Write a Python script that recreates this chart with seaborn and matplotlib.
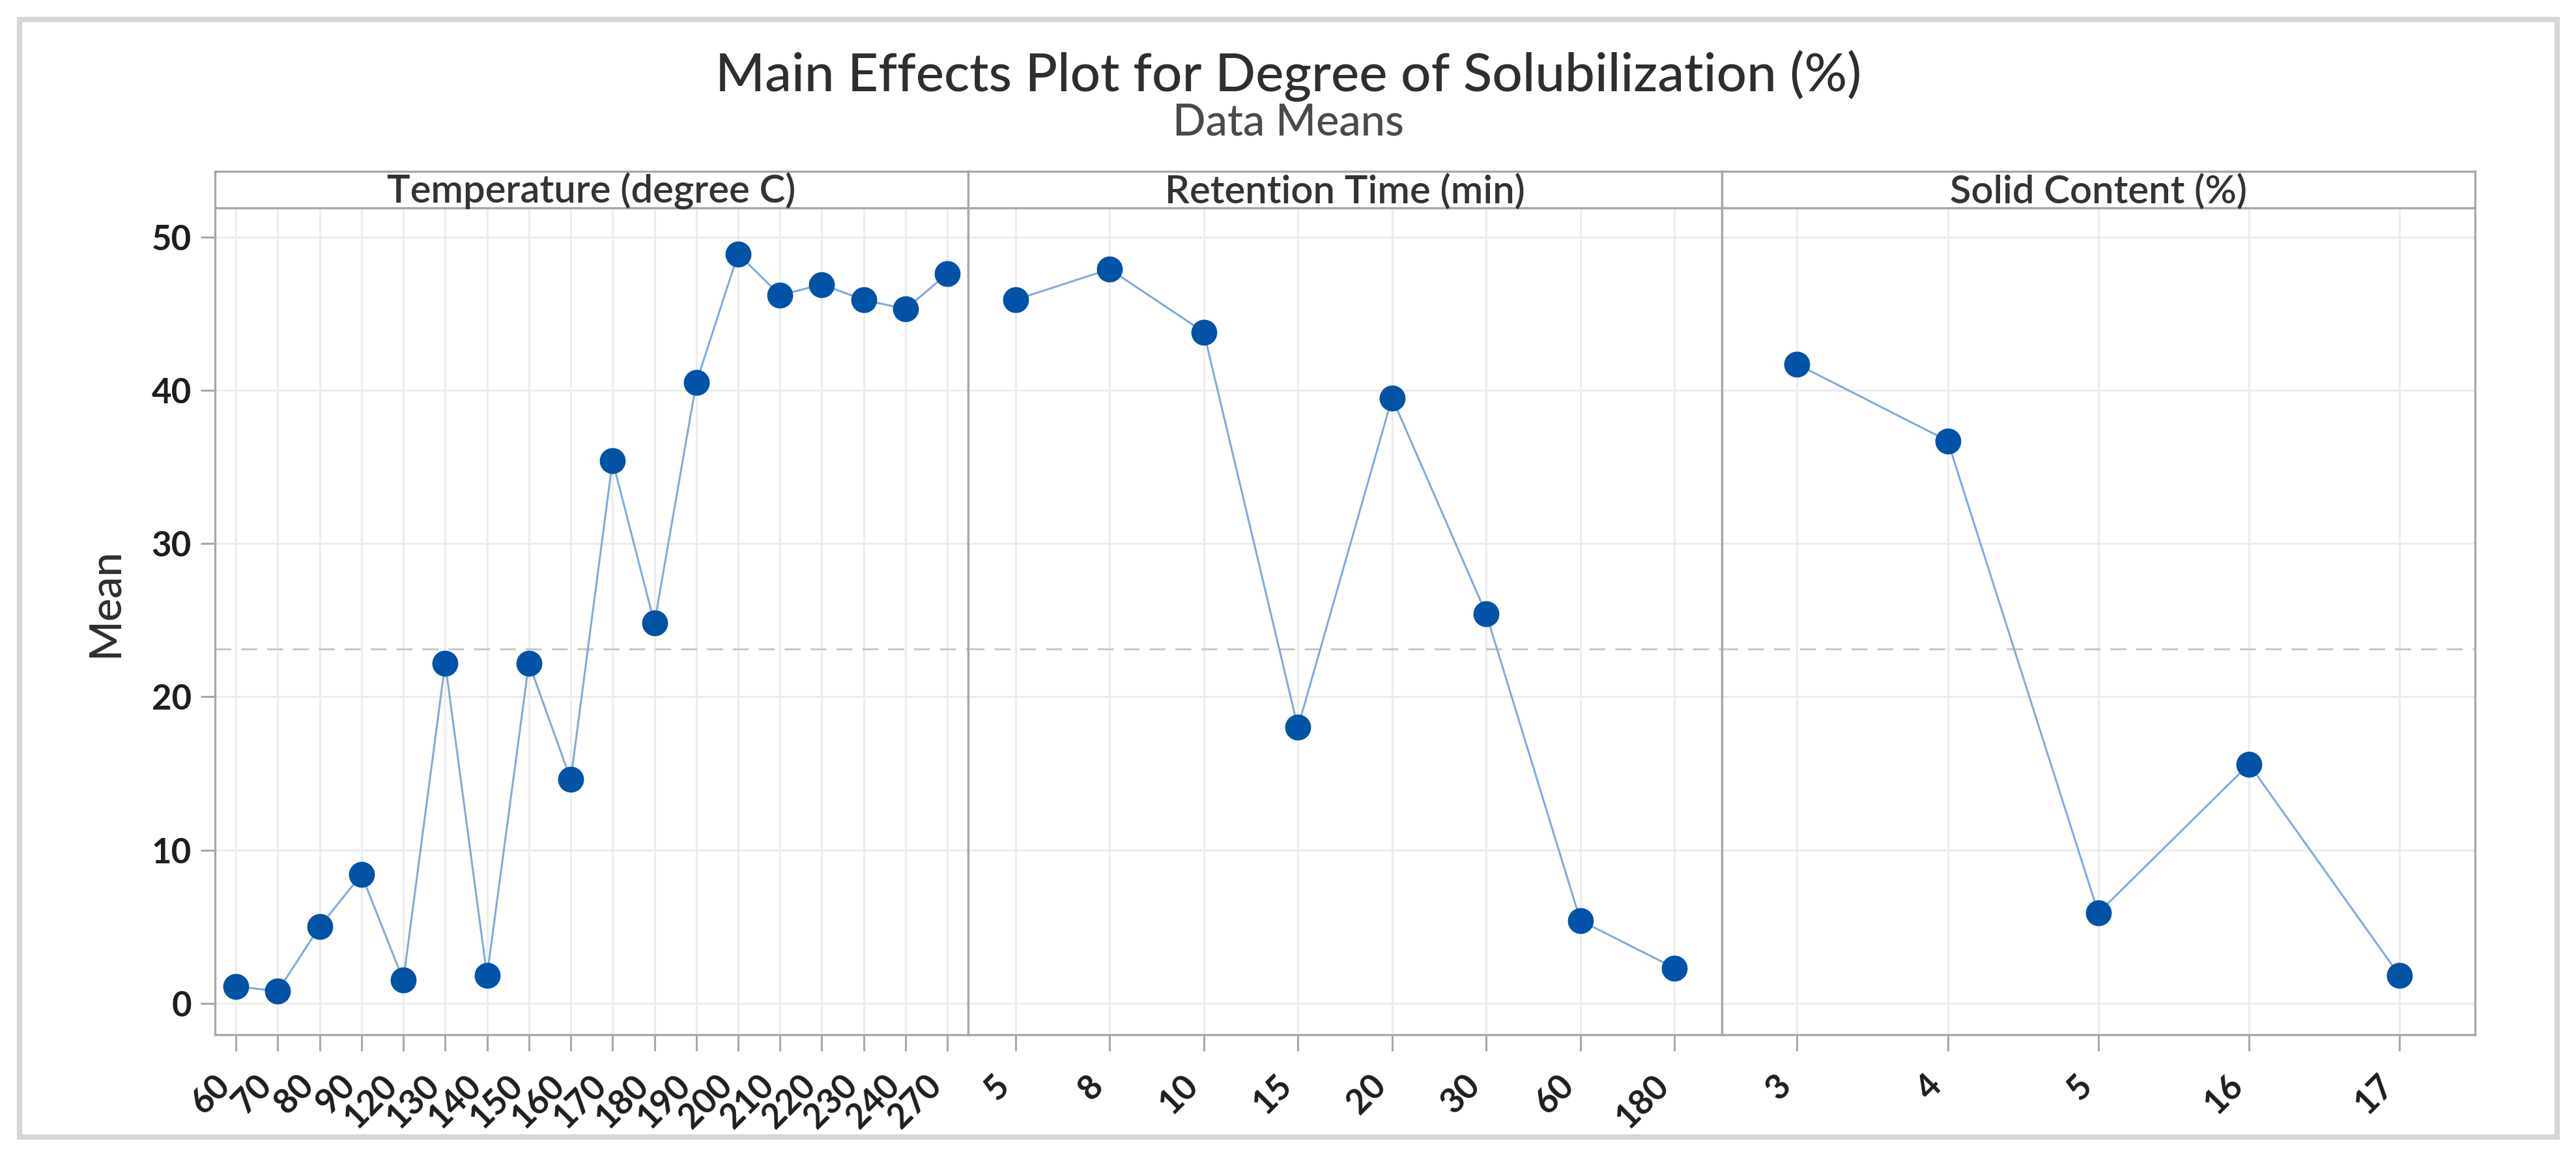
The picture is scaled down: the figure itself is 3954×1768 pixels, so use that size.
import matplotlib
matplotlib.use("Agg")
import numpy as np
import seaborn as sns
import matplotlib.pyplot as plt
from matplotlib.patches import Rectangle

sns.set_theme(style="white")
plt.rcParams['font.family'] = ['Lato', 'DejaVu Sans']

# ------ data ------ #
temp_levels = ["60", "70", "80", "90", "120", "130", "140", "150", "160",
               "170", "180", "190", "200", "210", "220", "230", "240", "270"]
temp_means = [1.1, 0.8, 5.0, 8.4, 1.5, 22.2, 1.8, 22.2, 14.6,
              35.4, 24.8, 40.5, 48.9, 46.2, 46.9, 45.9, 45.3, 47.6]

time_levels = ["5", "8", "10", "15", "20", "30", "60", "180"]
time_means = [45.9, 47.9, 43.8, 18.0, 39.5, 25.4, 5.4, 2.3]

solid_levels = ["3", "4", "5", "16", "17"]
solid_means = [41.7, 36.7, 5.9, 15.6, 1.8]

panel_titles = ["Temperature (degree C)", "Retention Time (min)", "Solid Content (%)"]
grand_mean = 23.1

W, H = 3955, 1768
DPI = 200
LINE_C = "#80aade"
MARK_C = "#0053a6"
FRAME_C = "#a8a8a8"
GRID_C = "#ececec"

fig = plt.figure(figsize=(W / DPI, H / DPI), dpi=DPI, facecolor="w")

# outer light-gray frame
fig.patches.append(Rectangle((30 / W, 1 - 1745 / H), 3895 / W, 1715 / H,
                             transform=fig.transFigure, fill=False,
                             edgecolor="#d6d6d6", linewidth=3, zorder=0))

fig.text(0.5, 1 - 116 / H, "Main Effects Plot for Degree of Solubilization (%)",
         ha="center", va="center", fontsize=29.4, color="#2e2e2e",
         fontweight="medium")
fig.text(0.5, 1 - 188 / H, "Data Means", ha="center", va="center",
         fontsize=24, color="#4a4a4a", fontweight="medium")
fig.text(162 / W, 1 - 925 / H, "Mean", rotation=90, ha="center", va="center",
         fontsize=24, color="#2e2e2e", fontweight="medium")

x0 = 330 / W
pw = (3799 - 330) / W / 3
ax_bottom = 1 - 1588 / H
ax_h = (1588 - 319) / H
strip_h = (319 - 263) / H

groups = [(temp_levels, temp_means), (time_levels, time_means), (solid_levels, solid_means)]
axes = []
for i, (levels, means) in enumerate(groups):
    ax = fig.add_axes([x0 + i * pw, ax_bottom, pw, ax_h],
                      sharey=axes[0] if axes else None)
    axes.append(ax)

    # ------ line first, markers on top ------ #
    sns.pointplot(x=levels, y=means, order=levels, errorbar=None, ax=ax,
                  color=LINE_C, markers="o", linestyles="-",
                  linewidth=1.1, markersize=0)
    sns.pointplot(x=levels, y=means, order=levels, errorbar=None, ax=ax,
                  color=MARK_C, markers="o", linestyles="none",
                  markersize=12.3)

    ax.axhline(grand_mean, color="#c8c8c8", linestyle=(0, (8, 5)),
               linewidth=1.1, zorder=1)

    ax.set_xlim(-0.5, len(levels) - 0.5)
    ax.set_ylim(-2.05, 51.9)
    ax.set_yticks([0, 10, 20, 30, 40, 50])
    ax.set_xlabel("")
    ax.set_ylabel("")
    ax.grid(True, color=GRID_C, linewidth=1.1, zorder=0)
    ax.set_axisbelow(True)
    for sp in ax.spines.values():
        sp.set_color(FRAME_C)
        sp.set_linewidth(1.2)

    ax.tick_params(axis="x", which="both", bottom=True, length=9, width=1.1,
                   color=FRAME_C, pad=10, labelsize=19, labelcolor="#1e1e1e")
    for lab in ax.get_xticklabels():
        lab.set_rotation(45)
        lab.set_ha("right")
        lab.set_fontweight("bold")
    if i == 0:
        ax.tick_params(axis="y", left=True, length=8, width=1.1, color=FRAME_C,
                       pad=5, labelsize=19, labelcolor="#1e1e1e")
        for lab in ax.get_yticklabels():
            lab.set_fontweight("bold")
    else:
        ax.tick_params(axis="y", left=False, labelleft=False)

    # ------ panel header strip ------ #
    sax = fig.add_axes([x0 + i * pw, ax_bottom + ax_h, pw, strip_h])
    sax.set_xticks([])
    sax.set_yticks([])
    sax.set_facecolor("w")
    for sp in sax.spines.values():
        sp.set_color(FRAME_C)
        sp.set_linewidth(1.2)
    sax.text(0.5, 0.45, panel_titles[i], transform=sax.transAxes, ha="center",
             va="center", fontsize=21.5, color="#333333", fontweight="semibold")

fig.savefig("out.png", dpi=DPI, facecolor="w")
